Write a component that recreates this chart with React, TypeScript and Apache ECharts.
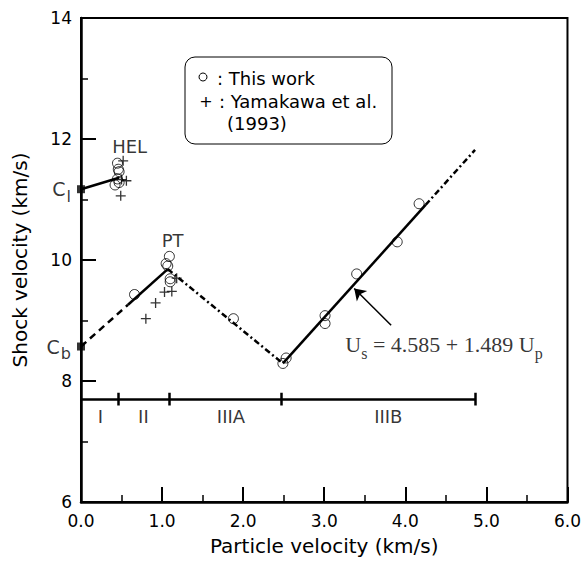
import React, { useEffect, useRef } from "react";
import * as echarts from "echarts";

// ---- data ----
const thisWork: number[][] = [
  [0.45, 11.6], [0.46, 11.5], [0.47, 11.46], [0.45, 11.34], [0.42, 11.24], [0.47, 11.28],
  [0.66, 9.43],
  [1.09, 10.06], [1.05, 9.94], [1.07, 9.9], [1.1, 9.69], [1.1, 9.64],
  [1.88, 9.03],
  [2.49, 8.29], [2.53, 8.38],
  [3.01, 9.08], [3.01, 8.95],
  [3.4, 9.77],
  [3.9, 10.3],
  [4.17, 10.93],
];
const yamakawa: number[][] = [
  [0.52, 11.64], [0.56, 11.31], [0.5, 11.33], [0.49, 11.06],
  [0.8, 9.03], [0.92, 9.29], [1.03, 9.47], [1.12, 9.48], [1.18, 9.7],
];
const helLine = [[0, 11.17], [0.47, 11.36]];
const cbDashed = [[0, 8.57], [0.58, 9.26]];
const cbSolid = [[0.58, 9.26], [1.07, 9.85]];
const ptDashDot = [[1.07, 9.85], [2.49, 8.29]];
const fitSolid = [[2.49, 8.29], [4.25, 10.91]];
const fitDashDot = [[4.25, 10.91], [4.86, 11.82]];
const intercepts = [
  { name: "l", value: [0, 11.17] },
  { name: "b", value: [0, 8.57] },
];
const regimeY = 7.7;
const regimeStart = 0;
const regimeBounds = [0.46, 1.09, 2.47, 4.86];
const regimeNames = ["I", "II", "IIIA", "IIIB"];
const regimeLabelX = [0.24, 0.77, 1.85, 3.79];
const regimeLabelY = 7.42;
const noteLabels = [
  { name: "HEL", value: [0.6, 11.88] },
  { name: "PT", value: [1.13, 10.32] },
];
const arrowCoords = [[3.825, 8.92], [3.37, 9.53]];
const equationAnchor = [3.26, 8.6];

const FONT = "DejaVu Sans";

export default function App() {
  const ref = useRef<HTMLDivElement>(null);
  useEffect(() => {
    if (!ref.current) return;
    const chart = echarts.init(ref.current, null, { renderer: "svg" });
    const black = "#000";
    const lineSeries = (data: number[][], type: any) => ({
      type: "line",
      data,
      showSymbol: false,
      symbol: "none",
      silent: true,
      z: 3,
      lineStyle: { color: black, width: 2.5, type },
    });
    const tickHalf = 0.105;
    const option: any = {
      animation: false,
      backgroundColor: "#fff",
      grid: {
        left: 81, top: 18, width: 488, height: 486,
        show: true, borderColor: black, borderWidth: 2,
      },
      xAxis: {
        type: "value", min: 0, max: 6, interval: 1,
        axisLine: { show: true, lineStyle: { color: black, width: 2.5 } },
        axisTick: { show: true, inside: true, length: 15, lineStyle: { color: black, width: 2 } },
        minorTick: { show: true, splitNumber: 2, length: 7, lineStyle: { color: black, width: 1.5 } },
        axisLabel: {
          color: black, fontFamily: FONT, fontSize: 17, margin: 10,
          formatter: (v: number) => v.toFixed(1),
        },
        splitLine: { show: false },
        name: "Particle velocity (km/s)",
        nameLocation: "middle",
        nameGap: 34,
        nameTextStyle: { color: black, fontFamily: FONT, fontSize: 20 },
      },
      yAxis: {
        type: "value", min: 6, max: 14, interval: 2,
        axisLine: { show: true, lineStyle: { color: black, width: 2.5 } },
        axisTick: { show: true, inside: true, length: 15, lineStyle: { color: black, width: 2 } },
        minorTick: { show: true, splitNumber: 2, length: 7, lineStyle: { color: black, width: 1.5 } },
        axisLabel: { color: black, fontFamily: FONT, fontSize: 17, margin: 9 },
        splitLine: { show: false },
        name: "Shock velocity (km/s)",
        nameLocation: "middle",
        nameGap: 51,
        nameTextStyle: { color: black, fontFamily: FONT, fontSize: 20 },
      },
      series: [
        lineSeries(helLine, "solid"),
        lineSeries(cbDashed, [7, 5]),
        lineSeries(cbSolid, "solid"),
        lineSeries(ptDashDot, [6, 3, 2, 3]),
        lineSeries(fitSolid, "solid"),
        lineSeries(fitDashDot, [6, 3, 2, 3]),
        {
          type: "scatter",
          data: thisWork,
          symbol: "circle",
          symbolSize: 10,
          z: 4,
          itemStyle: { color: "rgba(0,0,0,0)", borderColor: black, borderWidth: 1 },
        },
        {
          type: "scatter",
          data: yamakawa,
          symbol: "path://M5,0L5,10M0,5L10,5",
          symbolSize: 10,
          z: 4,
          itemStyle: { color: "rgba(0,0,0,0)", borderColor: black, borderWidth: 1.3 },
        },
        {
          type: "scatter",
          data: intercepts,
          symbol: "rect",
          symbolSize: 8,
          z: 5,
          itemStyle: { color: black },
          label: {
            show: true,
            position: "left",
            distance: 6,
            formatter: (p: any) => `{c|C}{s|${p.name}}`,
            rich: {
              c: { fontFamily: FONT, fontSize: 19, color: black },
              s: { fontFamily: FONT, fontSize: 16, color: black, padding: [14, 0, 0, 1] },
            },
          },
        },
        {
          type: "lines",
          coordinateSystem: "cartesian2d",
          polyline: false,
          silent: true,
          z: 3,
          lineStyle: { color: black, width: 2.5, opacity: 1, curveness: 0 },
          data: [
            { coords: [[regimeStart, regimeY], [regimeBounds[regimeBounds.length - 1], regimeY]] },
            ...regimeBounds.map((x) => ({ coords: [[x, regimeY - tickHalf], [x, regimeY + tickHalf]] })),
          ],
        },
        {
          type: "lines",
          coordinateSystem: "cartesian2d",
          polyline: false,
          silent: true,
          z: 5,
          symbol: ["none", "arrow"],
          symbolSize: 11,
          lineStyle: { color: black, width: 1.5, opacity: 1, curveness: 0 },
          data: [{ coords: arrowCoords }],
        },
        {
          type: "scatter",
          data: regimeNames.map((n, i) => ({ name: n, value: [regimeLabelX[i], regimeLabelY] })),
          symbolSize: 0,
          silent: true,
          label: {
            show: true, position: "inside", formatter: (p: any) => p.name,
            fontFamily: FONT, fontSize: 18, color: black,
          },
        },
        {
          type: "scatter",
          data: noteLabels,
          symbolSize: 0,
          silent: true,
          label: {
            show: true, position: "inside", formatter: (p: any) => p.name,
            fontFamily: FONT, fontSize: 18, color: black,
          },
        },
        {
          type: "scatter",
          data: [{ name: "eq", value: equationAnchor }],
          symbolSize: 0,
          silent: true,
          label: {
            show: true,
            position: "right",
            distance: 0,
            formatter: "{u|U}{s|s}{t| = 4.585 + 1.489 }{u|U}{s|p}",
            rich: {
              u: { fontFamily: "Liberation Serif", fontSize: 22, color: black },
              t: { fontFamily: "Liberation Serif", fontSize: 22, color: black },
              s: { fontFamily: "Liberation Serif", fontSize: 16, color: black, padding: [18, 0, 0, 0] },
            },
          },
        },
      ],
      graphic: [
        {
          type: "rect",
          shape: { x: 185, y: 57, width: 207, height: 87, r: 10 },
          style: { fill: "none", stroke: black, lineWidth: 1 },
        },
        {
          type: "circle",
          shape: { cx: 203, cy: 77, r: 4 },
          style: { fill: "none", stroke: black, lineWidth: 1 },
        },
        {
          type: "text",
          x: 217, y: 78,
          style: { text: ": This work", fontFamily: FONT, fontSize: 18, fill: black, verticalAlign: "middle" },
        },
        {
          type: "text",
          x: 206, y: 101,
          style: { text: "+", fontFamily: FONT, fontSize: 16, fill: black, verticalAlign: "middle", align: "center" },
        },
        {
          type: "text",
          x: 219, y: 101,
          style: { text: ": Yamakawa et al.", fontFamily: FONT, fontSize: 18, fill: black, verticalAlign: "middle" },
        },
        {
          type: "text",
          x: 227, y: 123,
          style: { text: "(1993)", fontFamily: FONT, fontSize: 18, fill: black, verticalAlign: "middle" },
        },
      ],
    };
    chart.setOption(option);
    return () => chart.dispose();
  }, []);
  return (
    <div
      ref={ref}
      style={{ position: "fixed", left: 0, top: 0, width: 584, height: 561, background: "#fff" }}
    />
  );
}
